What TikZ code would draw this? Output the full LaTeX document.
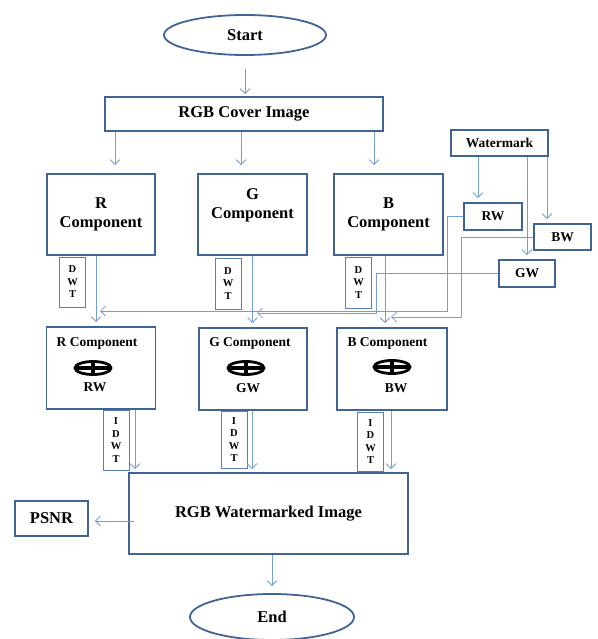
\documentclass[tikz,border=0pt]{standalone}
\usepackage{fontspec}
\setmainfont{Liberation Serif}
\usetikzlibrary{shapes.geometric,arrows.meta}
\definecolor{boxblue}{RGB}{64,100,148}
\definecolor{lineblue}{RGB}{118,158,214}
\definecolor{dwtblue}{RGB}{88,124,180}
\begin{document}
\begin{tikzpicture}[x=1pt,y=-1pt]
        \tikzstyle{every node}=[font=\bfseries]
        \tikzstyle{big}=[font=\bfseries\fontsize{16.5}{19}\selectfont]
        \tikzstyle{mid}=[font=\bfseries\fontsize{13.5}{15}\selectfont]
        \tikzstyle{term}=[ellipse,draw=boxblue,line width=1.8pt,inner sep=0pt,big]
        \tikzstyle{block}=[rectangle,draw=boxblue,line width=1.8pt,inner sep=0pt]
        \tikzstyle{tbox}=[rectangle,draw=dwtblue,line width=0.6pt,inner sep=0pt,minimum width=26pt,align=center,font=\bfseries\fontsize{10.5}{12.5}\selectfont]
        \tikzstyle{conn}=[draw=lineblue,line width=0.8pt,-{Straight Barb[length=5pt,width=10pt]}]
        \useasboundingbox (0,0) rectangle (597,639);
        % start and cover image
        \node[term,minimum width=162pt,minimum height=40pt] (start) at (245,35) {Start};
        \node[block,big,minimum width=278pt,minimum height=34pt] (cover) at (244,114) {RGB Cover Image};
        % colour components
        \node[block,big,align=center,minimum width=108pt,minimum height=81pt] (rc) at (101,214.5) {R\\Component};
        \node[block,minimum width=109pt,minimum height=81pt] (gc) at (252.5,214.5) {};
        \node[big,align=center] (gctext) at (252.5,205.5) {G\\Component};
        \node[block,big,align=center,minimum width=109pt,minimum height=81pt] (bc) at (388.5,214.5) {B\\Component};
        \node[tbox,minimum height=50pt] (rdwt) at (72.5,282) {D\\W\\T};
        \node[tbox,minimum height=51pt] (gdwt) at (228,283.5) {D\\W\\T};
        \node[tbox,minimum height=51pt] (bdwt) at (358.5,282.5) {D\\W\\T};
        % watermark
        \node[block,mid,minimum width=97pt,minimum height=26pt] (wmk) at (499.5,143) {Watermark};
        \node[block,mid,minimum width=58pt,minimum height=27pt] (rw) at (493,216.5) {RW};
        \node[block,mid,minimum width=57pt,minimum height=26pt] (bw) at (562.5,237) {BW};
        \node[block,mid,minimum width=56pt,minimum height=27pt] (gw) at (527,273.5) {GW};
        % embedding
        \node[block,minimum width=109pt,minimum height=82pt] (rx) at (101,368) {};
        \node[mid] (rxtop) at (97,343) {R Component};
        \node[mid] (rxw) at (95,387) {RW};
        \node[block,minimum width=108pt,minimum height=82pt] (gx) at (253,369) {};
        \node[mid] (gxtop) at (250,343) {G Component};
        \node[mid] (gxw) at (248,388) {GW};
        \node[block,minimum width=110pt,minimum height=82pt] (bx) at (392,369) {};
        \node[mid] (bxtop) at (387.5,343) {B Component};
        \node[mid] (bxw) at (396,388) {BW};
        \foreach \cx/\cy in {93/368,246/368,392/367}{
            \draw[line width=2.8pt] (\cx,\cy) ellipse [x radius=18, y radius=6.5];
            \draw[line width=4.5pt] (\cx-17,\cy) -- (\cx+17,\cy);
            \draw[line width=4pt] (\cx,\cy-7) -- (\cx,\cy+7);
        }
        \node[tbox,minimum height=60pt] (ridwt) at (116,440) {I\\D\\W\\T};
        \node[tbox,minimum height=57pt] (gidwt) at (234,439.5) {I\\D\\W\\T};
        \node[tbox,minimum height=59pt] (bidwt) at (370.5,441.5) {I\\D\\W\\T};
        % result
        \node[block,big,minimum width=279pt,minimum height=81pt] (wm) at (268.5,513.5) {RGB Watermarked Image};
        \node[block,big,minimum width=73pt,minimum height=35pt] (psnr) at (51.5,518.5) {PSNR};
        \node[term,minimum width=164pt,minimum height=46pt] (end) at (272,617) {End};
        \coordinate (rin) at (100,311);
        \coordinate (gin) at (257,313);
        \coordinate (bin) at (391,317);
        % connectors
        \draw[conn,shorten <=13pt,shorten >=2pt] (start.south) -- (start.south |- cover.north);
        \draw[conn,shorten >=8pt] ([xshift=14pt]rc.north |- cover.south) -- ([xshift=14pt]rc.north);
        \draw[conn,shorten >=8pt] ([xshift=-11.5pt]gc.north |- cover.south) -- ([xshift=-11.5pt]gc.north);
        \draw[conn,shorten >=8pt] ([xshift=-14.5pt]bc.north |- cover.south) -- ([xshift=-14.5pt]bc.north);
        \draw[conn,shorten >=4pt] ([xshift=-5pt]rc.south) -- ([xshift=-5pt]rc.south |- rx.north);
        \draw[conn,shorten >=4pt] (gc.south) -- (gc.south |- gx.north);
        \draw[conn,shorten >=4pt] ([xshift=-3.5pt]bc.south) -- ([xshift=-3.5pt]bc.south |- bx.north);
        \draw[conn,shorten >=4pt] ([xshift=-21.5pt]wmk.south) -- ([xshift=-21.5pt]wmk.south |- rw.north);
        \draw[conn,shorten >=4pt] (wmk.south -| gw.north) -- (gw.north);
        \draw[conn,shorten >=4pt] ([xshift=47.5pt]wmk.south) -- ([xshift=47.5pt]wmk.south |- bw.north);
        \draw[conn] (rw.west) -- ++(-16,0) |- (rin);
        \draw[conn] (gw.west) -- ++(-122,0) |- (gin);
        \draw[conn] (bw.west) -- ++(-72,0) |- (bin);
        \draw[conn,shorten >=3pt] ([xshift=34pt]rx.south) -- ([xshift=34pt]rx.south |- wm.north);
        \draw[conn,shorten >=3pt] ([xshift=-1pt]gx.south) -- ([xshift=-1pt]gx.south |- wm.north);
        \draw[conn,shorten >=3pt] ([xshift=-1pt]bx.south) -- ([xshift=-1pt]bx.south |- wm.north);
        \draw[conn,shorten <=-6pt,shorten >=6pt] ([yshift=-7.5pt]wm.west) -- ([yshift=-7.5pt]wm.west -| psnr.east);
        \draw[conn,shorten >=7pt] (wm.south -| end.north) -- (end.north);
\end{tikzpicture}
\end{document}
